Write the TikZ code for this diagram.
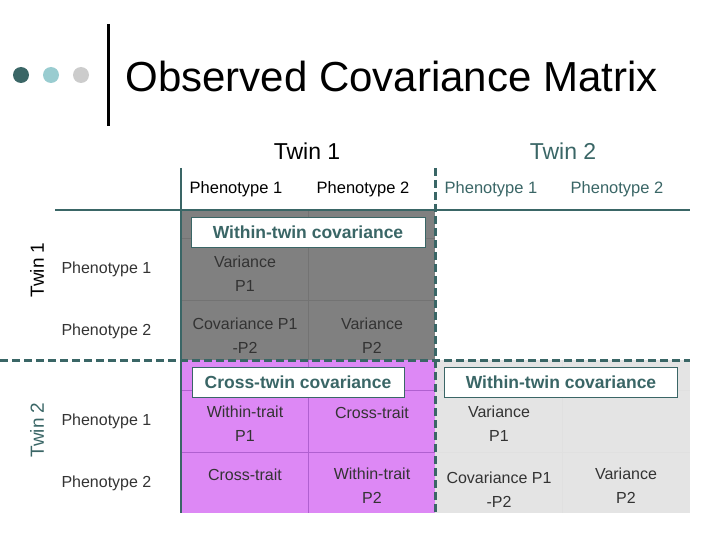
\documentclass[tikz,border=0pt]{standalone}
\usepackage{fontspec}
\setmainfont{Liberation Sans}
\definecolor{teal1}{HTML}{3A6666}
\definecolor{dot2}{HTML}{99CCD0}
\definecolor{dot3}{HTML}{CCCCCC}
\definecolor{pinkc}{HTML}{DD88F5}
\definecolor{pinkl}{HTML}{B060D0}
\definecolor{grayd}{HTML}{808080}
\definecolor{grayl}{HTML}{E4E4E4}
\begin{document}
\begin{tikzpicture}[x=1pt,y=-1pt,
  cell/.style={align=center,font=\fontsize{16}{24}\selectfont,text=black!80},
  rowlab/.style={anchor=west,font=\fontsize{16}{18}\selectfont,text=black!80},
  collab/.style={font=\fontsize{16.5}{18}\selectfont},
  boxlab/.style={draw=teal1,fill=white,text=teal1,font=\fontsize{17.5}{20}\selectfont\bfseries,inner sep=2pt,minimum height=30pt},
  tline/.style={teal1,line width=2pt},
  dline/.style={teal1,line width=3pt,dash pattern=on 8pt off 4pt}]
\useasboundingbox (0,0) rectangle (720,540);
% title
\fill[teal1] (21,75) circle (8);
\fill[dot2] (51,75) circle (8);
\fill[dot3] (81,75) circle (8);
\draw[line width=3pt] (108,24) -- (108,126);
\node[anchor=west,font=\fontsize{42}{46}\selectfont] (title) at (122,76) {Observed Covariance Matrix};
% blocks
\fill[grayd] (181,210) rectangle (435,360);
\fill[pinkc] (181,360) rectangle (435,513);
\fill[grayl] (435,360) rectangle (690,513);
\draw[black!55] (308,210) -- (308,360) (181,238) -- (435,238) (181,300) -- (435,300);
\draw[pinkl] (308,360) -- (308,513) (181,390) -- (435,390) (181,452) -- (435,452);
\draw[black!12] (562,360) -- (562,513) (435,390) -- (690,390) (435,452) -- (690,452);
% lines
\draw[tline] (55,210) -- (690,210);
\draw[tline] (181,168) -- (181,513);
\draw[dline] (435,168) -- (435,513);
\draw[dline] (0,360) -- (690,360);
% headers
\node[font=\fontsize{23}{26}\selectfont] (t1) at (307,151) {Twin 1};
\node[font=\fontsize{23}{26}\selectfont,text=teal1] (t2) at (563,151) {Twin 2};
\node[collab] (h1) at (236,189) {Phenotype 1};
\node[collab] (h2) at (363,189) {Phenotype 2};
\node[collab,text=teal1] (h3) at (491,189) {Phenotype 1};
\node[collab,text=teal1] (h4) at (617,189) {Phenotype 2};
\node[rotate=90,font=\fontsize{19}{22}\selectfont] (v1) at (37,270) {Twin 1};
\node[rotate=90,font=\fontsize{19}{22}\selectfont,text=teal1] (v2) at (37,430) {Twin 2};
\node[rowlab] (r1) at (58,269) {Phenotype 1};
\node[rowlab] (r2) at (58,331) {Phenotype 2};
\node[rowlab] (r3) at (58,421) {Phenotype 1};
\node[rowlab] (r4) at (58,483) {Phenotype 2};
% cells
\node[cell] (c11) at (245,274) {Variance\\P1};
\node[cell] (c21) at (245,336) {Covariance P1\\-P2};
\node[cell] (c22) at (372,336) {Variance\\P2};
\node[cell] (p11) at (245,424) {Within-trait\\P1};
\node[cell] (p12) at (372,413) {Cross-trait};
\node[cell] (p21) at (245,475) {Cross-trait};
\node[cell] (p22) at (372,486) {Within-trait\\P2};
\node[cell] (g11) at (499,424) {Variance\\P1};
\node[cell] (g21) at (499,490) {Covariance P1\\-P2};
\node[cell] (g22) at (626,486) {Variance\\P2};
% box labels
\node[boxlab,minimum width=234pt] (w1) at (308,232) {Within-twin covariance};
\node[boxlab,minimum width=212pt] (cr) at (298,382) {Cross-twin covariance};
\node[boxlab,minimum width=233pt] (w2) at (561,382) {Within-twin covariance};
\end{tikzpicture}
\end{document}
